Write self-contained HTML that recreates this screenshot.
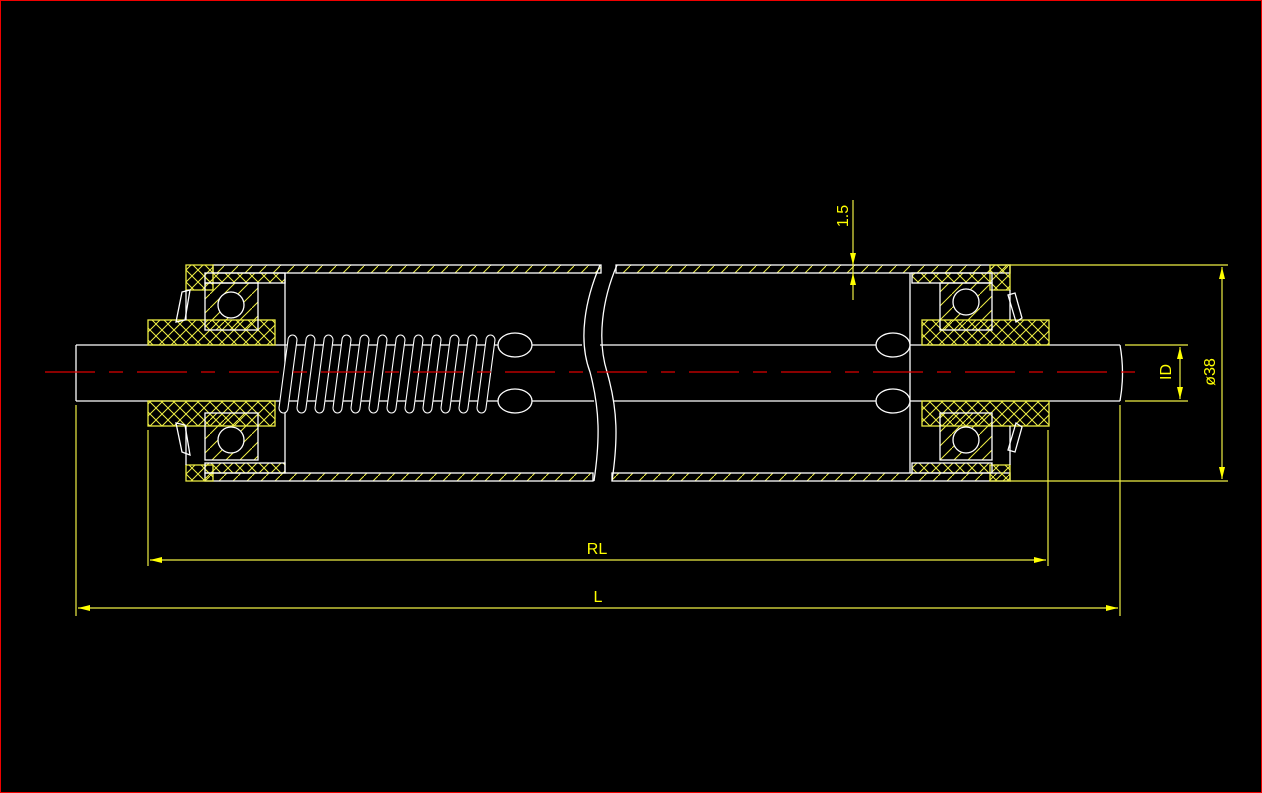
<!DOCTYPE html>
<html><head><meta charset="utf-8"><style>
html,body{margin:0;padding:0;background:#000;}
svg{display:block}
text{font-family:"Liberation Sans",sans-serif;fill:#ff0;}
</style></head><body>
<svg width="1262" height="793" viewBox="0 0 1262 793" xmlns="http://www.w3.org/2000/svg">
<defs>
<pattern id="h" width="14" height="14" patternUnits="userSpaceOnUse"><path d="M0 14 L14 0" stroke="#ee4" stroke-width="1"/></pattern>
<pattern id="x" width="12" height="12" patternUnits="userSpaceOnUse"><path d="M0 12 L12 0 M0 0 L12 12" stroke="#ee4" stroke-width="1"/></pattern>
<path id="coil" d="M0 408 L9 340 A4.5 5 0 0 1 18 340 L9 408 A4.5 5 0 0 1 0 408 Z"/>
</defs>
<rect x="0.5" y="0.5" width="1261" height="792" fill="#000" stroke="#e00" stroke-width="1"/>
<g stroke="#fff" stroke-width="1.3" fill="none">
<rect x="213" y="265" width="388" height="8" fill="url(#h)"/>
<rect x="616" y="265" width="394" height="8" fill="url(#h)"/>
<rect x="205" y="473" width="388" height="8" fill="url(#h)"/>
<rect x="612" y="473" width="398" height="8" fill="url(#h)"/>
<path d="M600 265 C585 300,578 340,590 372 C600 410,600 440,594 481"/>
<path d="M617 265 C602 300,597 340,607 372 C618 410,618 440,612 481"/>
<line x1="76" y1="345" x2="582" y2="345"/><line x1="600" y1="345" x2="1120" y2="345"/>
<line x1="76" y1="401" x2="594" y2="401"/><line x1="613" y1="401" x2="1120" y2="401"/>
<line x1="76" y1="345" x2="76" y2="401"/><path d="M1120 345 q5 28 0 56"/>
<path d="M186 265 H213 V290 H186 Z" fill="url(#x)" stroke="#ee4"/>
<path d="M186 465 H213 V481 H186 Z" fill="url(#x)" stroke="#ee4"/>
<rect x="205" y="273" width="80" height="10" fill="url(#x)"/>
<rect x="205" y="463" width="80" height="10" fill="url(#x)"/>
<rect x="148" y="320" width="127" height="25" fill="url(#x)" stroke="#ee4"/>
<rect x="148" y="401" width="127" height="25" fill="url(#x)" stroke="#ee4"/>
<rect x="205" y="283" width="53" height="47" fill="url(#h)"/>
<rect x="205" y="413" width="53" height="47" fill="url(#h)"/>
<circle cx="231" cy="305" r="13" fill="#000"/><circle cx="231" cy="440" r="13" fill="#000"/>
<path d="M285 273 V473"/>
<path d="M186 290 V320 M186 426 V465"/>
<path d="M182 292 L190 290 L185 320 L176 322 Z M182 452 L190 455 L185 425 L176 423 Z"/>
<path d="M990 265 H1010 V290 H990 Z" fill="url(#x)" stroke="#ee4"/>
<path d="M990 465 H1010 V481 H990 Z" fill="url(#x)" stroke="#ee4"/>
<rect x="912" y="273" width="80" height="10" fill="url(#x)"/>
<rect x="912" y="463" width="80" height="10" fill="url(#x)"/>
<rect x="922" y="320" width="127" height="25" fill="url(#x)" stroke="#ee4"/>
<rect x="922" y="401" width="127" height="25" fill="url(#x)" stroke="#ee4"/>
<rect x="940" y="283" width="52" height="47" fill="url(#h)"/>
<rect x="940" y="413" width="52" height="47" fill="url(#h)"/>
<circle cx="966" cy="302" r="13" fill="#000"/><circle cx="966" cy="440" r="13" fill="#000"/>
<path d="M910 273 V473"/>
<path d="M1010 290 V320 M1010 426 V465"/>
<path d="M1008 295 L1015 293 L1022 318 L1016 322 Z M1008 450 L1015 452 L1022 427 L1016 423 Z"/>
<ellipse cx="515" cy="345" rx="17" ry="12" fill="#000"/><ellipse cx="515" cy="401" rx="17" ry="12" fill="#000"/>
<ellipse cx="893" cy="345" rx="17" ry="12" fill="#000"/><ellipse cx="893" cy="401" rx="17" ry="12" fill="#000"/>
<g stroke-width="1.1" fill="#000">
<use href="#coil" x="279"/><use href="#coil" x="297"/><use href="#coil" x="315"/><use href="#coil" x="333"/>
<use href="#coil" x="351"/><use href="#coil" x="369"/><use href="#coil" x="387"/><use href="#coil" x="405"/>
<use href="#coil" x="423"/><use href="#coil" x="441"/><use href="#coil" x="459"/><use href="#coil" x="477"/>
</g>
</g>
<line x1="45" y1="372" x2="1135" y2="372" stroke="#d00" stroke-width="1.3" stroke-dasharray="50 14 14 14"/>
<g stroke="#ee4" stroke-width="1.2" fill="none">
<line x1="76" y1="405" x2="76" y2="616"/><line x1="1120" y1="405" x2="1120" y2="616"/>
<line x1="148" y1="430" x2="148" y2="566"/><line x1="1048" y1="430" x2="1048" y2="566"/>
<line x1="150" y1="560" x2="1046" y2="560"/><line x1="78" y1="608" x2="1118" y2="608"/>
<line x1="1010" y1="265" x2="1228" y2="265"/><line x1="1010" y1="481" x2="1228" y2="481"/>
<line x1="1222" y1="267" x2="1222" y2="479"/>
<line x1="1125" y1="345" x2="1188" y2="345"/><line x1="1125" y1="401" x2="1188" y2="401"/>
<line x1="1180" y1="347" x2="1180" y2="399"/>
<line x1="853" y1="200" x2="853" y2="300"/>
</g>
<g fill="#ff0">
<path d="M150 560 l12 -3 v6 z M1046 560 l-12 -3 v6 z M78 608 l12 -3 v6 z M1118 608 l-12 -3 v6 z"/>
<path d="M1222 267 l-3 12 h6 z M1222 479 l-3 -12 h6 z M1180 347 l-3 12 h6 z M1180 399 l-3 -12 h6 z"/>
<path d="M853 265 l-3 -12 h6 z M853 273 l-3 12 h6 z"/>
</g>
<text x="597" y="554" font-size="16" text-anchor="middle">RL</text>
<text x="598" y="602" font-size="16" text-anchor="middle">L</text>
<text transform="translate(1171 372) rotate(-90)" font-size="16" text-anchor="middle">ID</text>
<text transform="translate(1215 372) rotate(-90)" font-size="16" text-anchor="middle">ø38</text>
<text transform="translate(848 216) rotate(-90)" font-size="16" text-anchor="middle">1.5</text>
</svg>
</body></html>
